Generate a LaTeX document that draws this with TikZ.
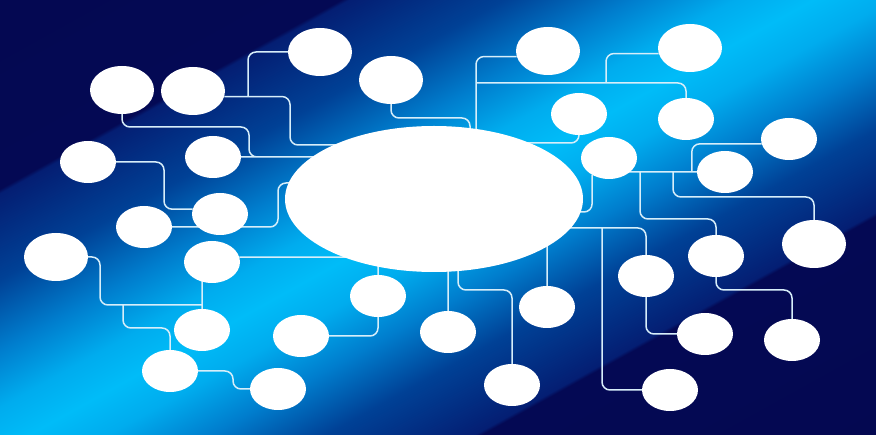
\documentclass[tikz,border=0pt]{standalone}
\usetikzlibrary{shapes.geometric}
\definecolor{bgnavy}{RGB}{3,6,74}
\definecolor{bgnavyb}{RGB}{4,9,84}
\definecolor{bgdeep}{RGB}{4,30,115}
\definecolor{bgmid}{RGB}{0,65,150}
\definecolor{bgsky}{RGB}{0,125,205}
\definecolor{bglight}{RGB}{0,172,238}
\definecolor{bgpeak}{RGB}{0,188,248}
\definecolor{wirecol}{RGB}{215,238,250}
\pgfdeclarehorizontalshading{band}{100bp}{color(0bp)=(bgnavy); color(37.28bp)=(bgnavyb); color(37.5bp)=(bgdeep); color(41.67bp)=(bgmid); color(45.11bp)=(bgsky); color(47.89bp)=(bglight); color(50bp)=(bgpeak); color(52.11bp)=(bglight); color(54.89bp)=(bgsky); color(58bp)=(bgmid); color(62bp)=(bgdeep); color(62.2bp)=(bgnavyb); color(100bp)=(bgnavy)}
\pgfdeclarelayer{back}
\pgfdeclarelayer{wires}
\pgfsetlayers{back,wires,main}

\begin{document}
\begin{tikzpicture}[x=1pt,y=-1pt,
  hubnode/.style={ellipse,fill=white,inner sep=0pt,minimum width=298pt,minimum height=146pt},
  bubble/.style={ellipse,fill=white,inner sep=0pt,minimum width=56pt,minimum height=42pt},
  bigbubble/.style={bubble,minimum width=64pt,minimum height=48pt},
  wire/.style={draw=wirecol,line width=1.5pt,rounded corners=8pt}]
\useasboundingbox (0,0) rectangle (876,435);
\begin{pgfonlayer}{back}
\clip (0,0) rectangle (876,435);
\begin{scope}[transform canvas={shift={(434,210)},rotate=-61}]
\shade[shading=band] (-450,-800) rectangle (450,800);
\end{scope}
\end{pgfonlayer}

\node[hubnode] (hub) at (434,199) {};
% left half
\node[bigbubble] (l1) at (122,90) {};
\node[bigbubble] (l2) at (193,91) {};
\node[bigbubble] (l3) at (320,52) {};
\node[bigbubble] (l4) at (391,80) {};
\node[bubble] (l5) at (88,162) {};
\node[bubble] (l6) at (213,157) {};
\node[bubble] (l7) at (144,227) {};
\node[bubble] (l8) at (220,214) {};
\node[bigbubble] (l9) at (56,257) {};
\node[bubble] (l10) at (212,262) {};
\node[bubble] (l11) at (202,330) {};
\node[bubble] (l12) at (170,371) {};
\node[bubble] (l13) at (278,389) {};
\node[bubble] (l14) at (301,336) {};
\node[bubble] (l15) at (378,296) {};
\node[bubble] (l16) at (448,332) {};
\node[bubble] (l17) at (547,307) {};
\node[bubble] (l18) at (512,385) {};
% right half
\node[bigbubble] (r1) at (548,51) {};
\node[bubble] (r2) at (579,114) {};
\node[bigbubble] (r3) at (690,48) {};
\node[bubble] (r4) at (686,119) {};
\node[bubble] (r5) at (609,158) {};
\node[bubble] (r6) at (789,139) {};
\node[bubble] (r7) at (725,172) {};
\node[bigbubble] (r8) at (814,244) {};
\node[bubble] (r9) at (716,256) {};
\node[bubble] (r10) at (646,276) {};
\node[bubble] (r11) at (705,334) {};
\node[bubble] (r12) at (792,340) {};
\node[bubble] (r13) at (670,390) {};

\coordinate (j1) at (123,305);
\coordinate (j2) at (476,83);
\coordinate (j3) at (606,83);
\coordinate (j4) at (602,228);

\begin{pgfonlayer}{wires}
\path[wire]
(l1.south) |- (249,127) |- (l6.east -| hub.center)
(l6.east) -- (l6.east -| hub.center)
(l2.-10) -| (290,145) -- (290,145 -| hub.center)
(l3.west) -| (248,0 |- l2.-10)
(l4.south) |- (470,118) -- (470,118 |- hub.center)
(l5.east) -| (164,0 |- l8.170) -- (l8.170)
(l7.east) -| (278,183) -- (278,183 -| hub.center)
(l9.east) -| (100,305) -- (l11.north |- 0,305)
(l10.10) -- (l10.10 -| hub.center)
(l11.north) -- (l11.north |- l10.center)
(l12.north) |- (123,328) -- (j1)
(l12.east) -| (233,0 |- l13.west) -- (l13.west)
(l14.east) -| (l15.south)
(l15.north) -- (l15.north |- hub.center)
(l16.north) -- (l16.north |- hub.center)
(l17.north) -- (l17.north |- hub.center)
(l18.north) |- (458,290) -- (458,290 |- hub.center);
\path[wire]
(r1.190) -| (476,0 |- hub.center)
(r4.north) |- (j2)
(r3.190) -| (j3)
(r2.south) |- (hub.center |- 0,143)
(r5.225) |- (hub.center |- 0,212)
(r7.west) -- (r7.west -| r5.center)
(r6.190) -| ([xshift=-5pt]r7.west)
(r8.north) |- (673,197) -- (673,0 |- r7.west)
(r9.north) |- (640,219) -- (640,0 |- r7.west)
(r10.north) |- (hub.center |- 0,228)
(r13.west) -| (j4)
(r10.south) |- (r11.west)
(r9.south) |- (r12.north |- 0,290) -- (r12.north);
\end{pgfonlayer}
\end{tikzpicture}
\end{document}
